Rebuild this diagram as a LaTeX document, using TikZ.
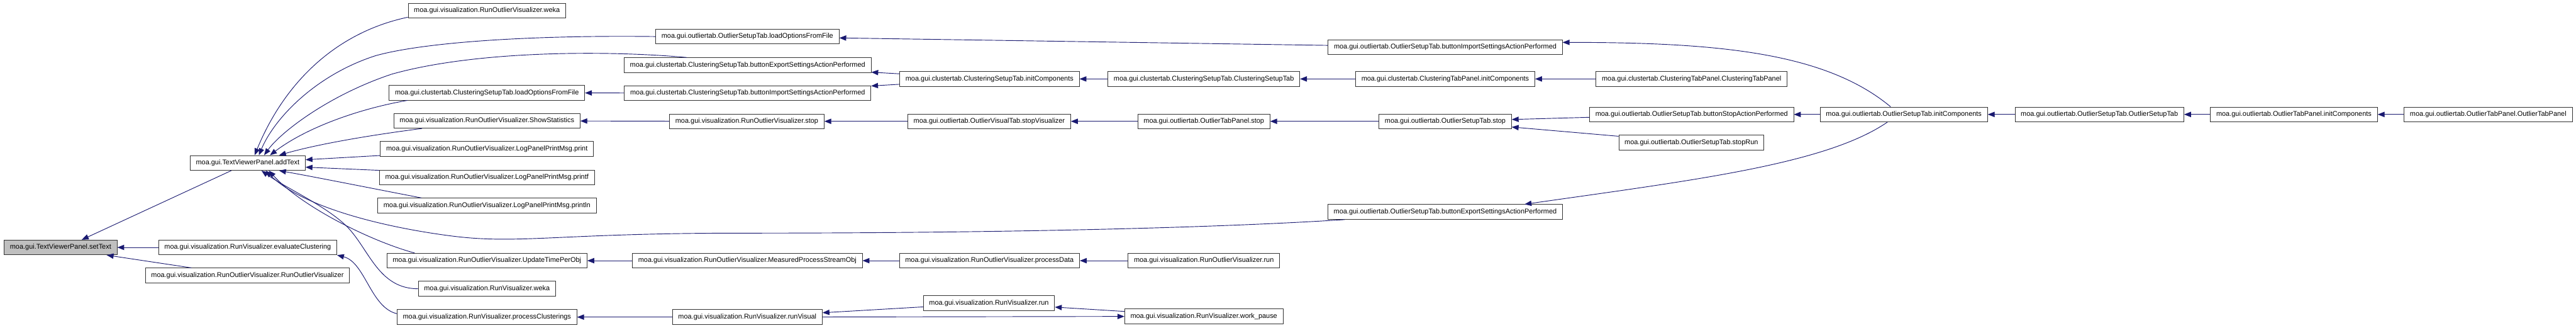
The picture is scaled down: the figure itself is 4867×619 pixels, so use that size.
\documentclass[tikz,border=0pt]{standalone}
\usepackage{fontspec}
\setmainfont{Liberation Sans}
\usetikzlibrary{arrows.meta}
\definecolor{edgeblue}{RGB}{25,25,112}
\definecolor{curgray}{RGB}{191,191,191}

\begin{document}
\begin{tikzpicture}[x=1pt,y=-1pt,
  fn/.style={draw=black!80,line width=1pt,fill=white,minimum height=28pt,inner xsep=11pt,inner ysep=0pt,font=\fontsize{13}{15}\selectfont},
  cur/.style={fill=curgray},
  call/.style={draw=edgeblue,line width=1.1pt,-{Triangle[length=13pt,width=10pt]}}]

\useasboundingbox (0,0) rectangle (4867,619);

\draw (114.5,467) node[fn,cur] (setText) {moa.gui.TextViewerPanel.setText};
\draw (468,307.5) node[fn] (addText) {moa.gui.TextViewerPanel.addText};
\draw (468,467) node[fn] (evalClust) {moa.gui.visualization.RunVisualizer.evaluateClustering};
\draw (467.5,520) node[fn] (rovCtor) {moa.gui.visualization.RunOutlierVisualizer.RunOutlierVisualizer};

\draw (920,20) node[fn] (rovWeka) {moa.gui.visualization.RunOutlierVisualizer.weka};
\draw (920,175) node[fn] (cLoad) {moa.gui.clustertab.ClusteringSetupTab.loadOptionsFromFile};
\draw (920,228) node[fn] (rovStat) {moa.gui.visualization.RunOutlierVisualizer.ShowStatistics};
\draw (920,281) node[fn] (logPrint) {moa.gui.visualization.RunOutlierVisualizer.LogPanelPrintMsg.print};
\draw (920,335) node[fn] (logPrintf) {moa.gui.visualization.RunOutlierVisualizer.LogPanelPrintMsg.printf};
\draw (920,388) node[fn] (logPrintln) {moa.gui.visualization.RunOutlierVisualizer.LogPanelPrintMsg.println};
\draw (920,492) node[fn] (rovUpd) {moa.gui.visualization.RunOutlierVisualizer.UpdateTimePerObj};
\draw (920,545) node[fn] (rvWeka) {moa.gui.visualization.RunVisualizer.weka};
\draw (920,598.5) node[fn] (rvProc) {moa.gui.visualization.RunVisualizer.processClusterings};

\draw (1412,69) node[fn] (oLoad) {moa.gui.outliertab.OutlierSetupTab.loadOptionsFromFile};
\draw (1412.5,123) node[fn] (cExport) {moa.gui.clustertab.ClusteringSetupTab.buttonExportSettingsActionPerformed};
\draw (1412.5,176) node[fn] (cImport) {moa.gui.clustertab.ClusteringSetupTab.buttonImportSettingsActionPerformed};
\draw (1411,229) node[fn] (rovStop) {moa.gui.visualization.RunOutlierVisualizer.stop};
\draw (1412,492) node[fn] (rovMeas) {moa.gui.visualization.RunOutlierVisualizer.MeasuredProcessStreamObj};
\draw (1412,598.5) node[fn] (rvVisual) {moa.gui.visualization.RunVisualizer.runVisual};

\draw (1869.5,149) node[fn] (cInit) {moa.gui.clustertab.ClusteringSetupTab.initComponents};
\draw (1869,229) node[fn] (oVisStop) {moa.gui.outliertab.OutlierVisualTab.stopVisualizer};
\draw (1869.5,492) node[fn] (rovProc) {moa.gui.visualization.RunOutlierVisualizer.processData};
\draw (1868.5,572) node[fn] (rvRun) {moa.gui.visualization.RunVisualizer.run};

\draw (2274.5,149) node[fn] (cSetup) {moa.gui.clustertab.ClusteringSetupTab.ClusteringSetupTab};
\draw (2274.5,229) node[fn] (oPanelStop) {moa.gui.outliertab.OutlierTabPanel.stop};
\draw (2274.5,492) node[fn] (rovRun) {moa.gui.visualization.RunOutlierVisualizer.run};
\draw (2274.5,597) node[fn] (rvPause) {moa.gui.visualization.RunVisualizer.work\_pause};

\draw (2730.5,89) node[fn] (oImport) {moa.gui.outliertab.OutlierSetupTab.buttonImportSettingsActionPerformed};
\draw (2730.5,149) node[fn] (cPanelInit) {moa.gui.clustertab.ClusteringTabPanel.initComponents};
\draw (2730.5,229) node[fn] (oStop) {moa.gui.outliertab.OutlierSetupTab.stop};
\draw (2730.5,400) node[fn] (oExport) {moa.gui.outliertab.OutlierSetupTab.buttonExportSettingsActionPerformed};

\draw (3196,149) node[fn] (cPanel) {moa.gui.clustertab.ClusteringTabPanel.ClusteringTabPanel};
\draw (3196,216) node[fn] (oBtnStop) {moa.gui.outliertab.OutlierSetupTab.buttonStopActionPerformed};
\draw (3195.5,269) node[fn] (oStopRun) {moa.gui.outliertab.OutlierSetupTab.stopRun};

\draw (3597,216) node[fn] (oInit) {moa.gui.outliertab.OutlierSetupTab.initComponents};
\draw (3966.5,216) node[fn] (oSetup) {moa.gui.outliertab.OutlierSetupTab.OutlierSetupTab};
\draw (4334,216) node[fn] (oPanelInit) {moa.gui.outliertab.OutlierTabPanel.initComponents};
\draw (4701,216) node[fn] (oPanel) {moa.gui.outliertab.OutlierTabPanel.OutlierTabPanel};

% callers of setText
\draw[call] ([xshift=-31pt]addText.south) -- ([xshift=40pt]setText.north);
\draw[call] (evalClust) -- (setText);
\draw[call] ([xshift=-106pt]rovCtor.north) -- ([xshift=-20pt]setText.south east);

% callers of addText
\draw[call] ([yshift=2pt]rovWeka.south west) .. controls (640,60) and (540,150) .. ([xshift=13pt]addText.north);
\draw[call] (oLoad.west) .. controls (1000,66) and (800,80) .. (710,105) .. controls (600,140) and (520,220) .. ([xshift=21pt]addText.north);
\draw[call] ([xshift=-115pt]cExport.north) .. controls (1150,95) and (900,95) .. (740,140) .. controls (620,180) and (530,250) .. ([xshift=31pt]addText.north);
\draw[call] ([xshift=35pt]cLoad.south west) .. controls (680,205) and (580,240) .. ([xshift=42pt]addText.north);
\draw[call] ([xshift=54pt]rovStat.south west) .. controls (700,255) and (600,272) .. ([xshift=-50pt]addText.north east);
\draw[call] ([yshift=2pt]logPrint.south west) -- ([yshift=6pt]addText.east);
\draw[call] ([yshift=-1pt]logPrintf.north west) -- ([yshift=-8pt]addText.east);
\draw[call] ([xshift=83pt]logPrintln.north west) .. controls (700,355) and (600,335) .. ([xshift=-50pt]addText.south east);
\draw[call] ([xshift=53pt]rovUpd.north west) .. controls (700,455) and (570,390) .. ([xshift=40pt]addText.south);
\draw[call] (rvWeka.west) .. controls (720,545) and (700,480) .. (664,437) .. controls (630,395) and (540,355) .. ([xshift=26pt]addText.south);
\draw[call] ([xshift=32pt]oExport.south west) .. controls (2300,430) and (1900,440) .. (1400,440) .. controls (1050,440) and (980,462) .. (850,445) .. controls (720,428) and (570,390) .. ([xshift=34pt]addText.south);

\draw[call] ([yshift=-8pt]rvProc.north west) .. controls (700,580) and (690,495) .. (evalClust.south east);

% clustering tab
\draw[call] (oImport) -- (oLoad);
\draw[call] (cInit) -- (cExport);
\draw[call] (cInit) -- (cImport);
\draw[call] (cImport) -- (cLoad);
\draw[call] (cSetup) -- (cInit);
\draw[call] (cPanelInit) -- (cSetup);
\draw[call] (cPanel) -- (cPanelInit);

% outlier tab
\draw[call] (rovStop) -- (rovStat);
\draw[call] (oVisStop) -- (rovStop);
\draw[call] (oPanelStop) -- (oVisStop);
\draw[call] (oStop) -- (oPanelStop);
\draw[call] (oBtnStop) -- (oStop);
\draw[call] (oStopRun) -- (oStop);
\draw[call] (oInit) -- (oBtnStop);
\draw[call] ([xshift=-25pt]oInit.north) .. controls (3450,100) and (3250,80) .. ([yshift=9pt]oImport.east);
\draw[call] ([xshift=-31pt]oInit.south) .. controls (3450,310) and (3200,340) .. ([xshift=150pt]oExport.north);
\draw[call] (oSetup) -- (oInit);
\draw[call] (oPanelInit) -- (oSetup);
\draw[call] (oPanel) -- (oPanelInit);

% visualizer runs
\draw[call] (rovMeas) -- (rovUpd);
\draw[call] (rovProc) -- (rovMeas);
\draw[call] (rovRun) -- (rovProc);
\draw[call] (rvVisual) -- (rvProc);
\draw[call] (rvRun) -- (rvVisual);
\draw[call] (rvPause) -- (rvRun);
\draw[call] (rvVisual) -- (rvPause);

\end{tikzpicture}
\end{document}
